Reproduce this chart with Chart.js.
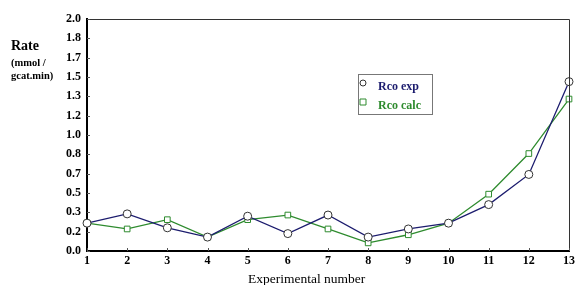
<!DOCTYPE html>
<html>
<head>
<meta charset="utf-8">
<script src="https://cdn.jsdelivr.net/npm/chart.js@4/dist/chart.umd.min.js"></script>
<style>
  html,body{margin:0;padding:0;background:#fff;}
  #wrap{position:relative;width:578px;height:285px;overflow:hidden;}
  canvas{position:absolute;left:0;top:0;}
  .t{position:absolute;font-family:"Liberation Serif","DejaVu Serif",serif;color:#000;white-space:nowrap;}
</style>
</head>
<body>
<div id="wrap">
  <canvas id="c" width="578" height="285"></canvas>
  <div class="t" style="left:11px;top:38px;font-size:14px;font-weight:bold;">Rate</div>
  <div class="t" style="left:11px;top:56px;font-size:10.5px;font-weight:bold;line-height:13px;">(mmol /<br>gcat.min)</div>
  <div class="t" style="left:248px;top:271px;font-size:13.5px;">Experimental number</div>
</div>
<script>
const categories = ['1','2','3','4','5','6','7','8','9','10','11','12','13'];
const rcoExp  = [0.24, 0.32, 0.20, 0.12, 0.30, 0.15, 0.31, 0.12, 0.19, 0.24, 0.40, 0.66, 1.46];
const rcoCalc = [0.24, 0.19, 0.27, 0.12, 0.27, 0.31, 0.19, 0.07, 0.14, 0.24, 0.49, 0.84, 1.31];
const yTickLabels = ['0.0','0.2','0.3','0.5','0.7','0.8','1.0','1.2','1.3','1.5','1.7','1.8','2.0'];
const yMax = 2.0;
const seriesNames = ['Rco exp', 'Rco calc'];

const serif = '"Liberation Serif","DejaVu Serif",serif';
const blue = '#1c1c6e';
const green = '#2e8b2e';

const framePlugin = {
  id: 'frame',
  afterDatasetsDraw(chart) {
    const {ctx, chartArea: a, scales} = chart;
    ctx.save();
    ctx.strokeStyle = '#333';
    ctx.lineWidth = 1;
    ctx.beginPath();
    ctx.moveTo(a.left, a.top + 0.5);
    ctx.lineTo(a.right + 0.5, a.top + 0.5);
    ctx.lineTo(a.right + 0.5, a.bottom);
    ctx.stroke();
    ctx.strokeStyle = '#555';
    ctx.beginPath();
    scales.y.ticks.forEach(t => {
      const y = Math.round(scales.y.getPixelForValue(t.value)) + 0.5;
      ctx.moveTo(a.left, y); ctx.lineTo(a.left + 3, y);
    });
    scales.x.ticks.forEach((t, i) => {
      const x = Math.round(scales.x.getPixelForTick(i)) + 0.5;
      ctx.moveTo(x, a.bottom); ctx.lineTo(x, a.bottom - 3);
    });
    ctx.stroke();
    ctx.restore();
  },
  afterDraw(chart) {
    const {ctx} = chart;
    ctx.save();
    const lx = 358, ly = 74, lw = 74, lh = 40;
    ctx.strokeStyle = '#777';
    ctx.lineWidth = 1;
    ctx.strokeRect(lx + 0.5, ly + 0.5, lw, lh);
    const items = [
      {name: seriesNames[0], color: blue, shape: 'circle', y: 85},
      {name: seriesNames[1], color: green, shape: 'rect', y: 104}
    ];
    items.forEach(it => {
      ctx.fillStyle = '#fff';
      ctx.strokeStyle = it.shape === 'circle' ? '#333' : green;
      ctx.lineWidth = 1;
      ctx.beginPath();
      if (it.shape === 'circle') ctx.arc(363, it.y - 2, 3, 0, Math.PI * 2);
      else ctx.rect(360, it.y - 5, 6, 6);
      ctx.fill(); ctx.stroke();
      ctx.fillStyle = it.color;
      ctx.font = 'bold 12px ' + serif;
      ctx.textBaseline = 'middle';
      ctx.textAlign = 'left';
      ctx.fillText(it.name, 378, it.y + 2);
    });
    ctx.restore();
  }
};

new Chart(document.getElementById('c'), {
  type: 'line',
  data: {
    labels: categories,
    datasets: [
      {label: seriesNames[0], data: rcoExp, borderColor: blue, borderWidth: 1.3,
       pointStyle: 'circle', pointRadius: 4, pointBackgroundColor: '#fff', pointBorderColor: '#333', pointBorderWidth: 1, tension: 0},
      {label: seriesNames[1], data: rcoCalc, borderColor: green, borderWidth: 1.3,
       pointStyle: 'rect', pointRadius: 4, pointBackgroundColor: '#fff', pointBorderColor: green, pointBorderWidth: 1, tension: 0}
    ]
  },
  options: {
    responsive: false,
    animation: false,
    layout: {padding: {left: 0, right: 5, top: 19, bottom: 0}},
    plugins: {legend: {display: false}, tooltip: {enabled: false}},
    scales: {
      x: {
        type: 'category', offset: false,
        grid: {display: false, drawTicks: false},
        border: {display: true, color: '#000', width: 2},
        ticks: {color: '#000', font: {family: serif, size: 12, weight: 'bold'}, padding: 3, maxRotation: 0, autoSkip: false},
        afterFit(s) { s.height = 34; }
      },
      y: {
        min: 0, max: yMax,
        grid: {display: false, drawTicks: false},
        border: {display: true, color: '#000', width: 2},
        afterBuildTicks(s) {
          s.ticks = yTickLabels.map((l, i) => ({value: i * yMax / (yTickLabels.length - 1), label: l}));
        },
        ticks: {color: '#000', font: {family: serif, size: 12, weight: 'bold'}, padding: 6,
          callback(v, i) { return yTickLabels[i]; }},
        afterFit(s) { s.width = 87; }
      }
    }
  },
  plugins: [framePlugin]
});
</script>
</body>
</html>
